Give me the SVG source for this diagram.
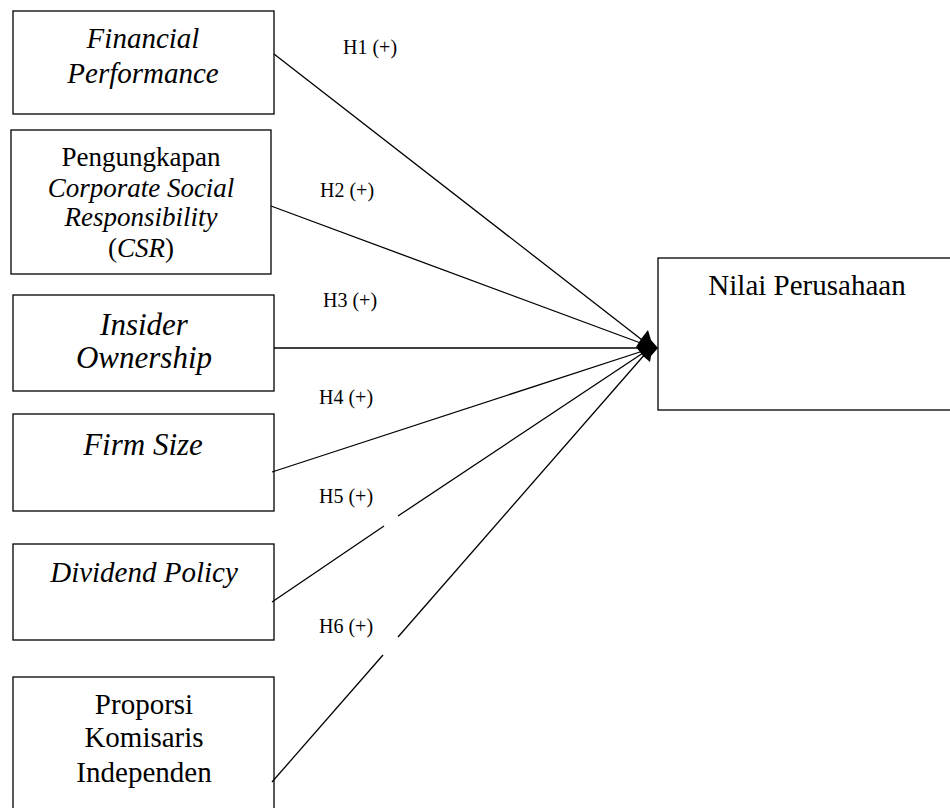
<svg xmlns="http://www.w3.org/2000/svg" width="950" height="808" viewBox="0 0 950 808">
<style>
rect{fill:#fff;stroke:#000;stroke-width:1.3}
text{font-family:"Liberation Serif","Times New Roman",serif;fill:#000;text-anchor:middle}
.i{font-style:italic}
.h{font-size:20px;text-anchor:start}
line{stroke:#000;stroke-width:1.3}
</style>
<rect x="0" y="0" width="950" height="808" style="stroke:none"/>
<g id="n1"><rect x="13" y="11" width="261" height="103"/>
<text class="i" x="143" y="48" font-size="29">Financial</text>
<text class="i" x="143" y="83" font-size="29">Performance</text></g>
<g id="n2"><rect x="11" y="130" width="260" height="144"/>
<text x="141" y="166" font-size="27">Pengungkapan</text>
<text class="i" x="141" y="197" font-size="27">Corporate Social</text>
<text class="i" x="141" y="226" font-size="27">Responsibility</text>
<text x="141" y="257" font-size="27">(<tspan class="i">CSR</tspan>)</text></g>
<g id="n3"><rect x="13" y="295" width="261" height="96"/>
<text class="i" x="144" y="335" font-size="31">Insider</text>
<text class="i" x="144" y="368" font-size="31">Ownership</text></g>
<g id="n4"><rect x="13" y="414" width="261" height="97"/>
<text class="i" x="143" y="455" font-size="31">Firm Size</text></g>
<g id="n5"><rect x="13" y="544" width="261" height="96"/>
<text class="i" x="144" y="582" font-size="29">Dividend Policy</text></g>
<g id="n6"><rect x="13" y="677" width="261" height="140"/>
<text x="144" y="714" font-size="29">Proporsi</text>
<text x="144" y="747" font-size="29">Komisaris</text>
<text x="144" y="782" font-size="29">Independen</text></g>
<g id="target"><rect x="658" y="258" width="300" height="152"/>
<text x="807" y="295" font-size="29">Nilai Perusahaan</text></g>
<g id="connectors">
<line x1="274" y1="54" x2="646" y2="343"/>
<line x1="271" y1="206" x2="646" y2="345"/>
<line x1="274" y1="348" x2="646" y2="348"/>
<line x1="272" y1="472" x2="646" y2="350"/>
<line x1="272" y1="602" x2="384" y2="526"/>
<line x1="398" y1="516" x2="646" y2="351"/>
<line x1="272" y1="782" x2="383" y2="655"/>
<line x1="398" y1="637" x2="646" y2="353"/>
<polygon points="648,330 651,340 658,348 651,356 650,362 643,356 636,347 641,339" fill="#000"/>
</g>
<g id="labels">
<text class="h" x="343" y="54">H1 (+)</text>
<text class="h" x="320" y="197">H2 (+)</text>
<text class="h" x="323" y="307">H3 (+)</text>
<text class="h" x="319" y="404">H4 (+)</text>
<text class="h" x="319" y="503">H5 (+)</text>
<text class="h" x="319" y="633">H6 (+)</text>
</g>
</svg>
